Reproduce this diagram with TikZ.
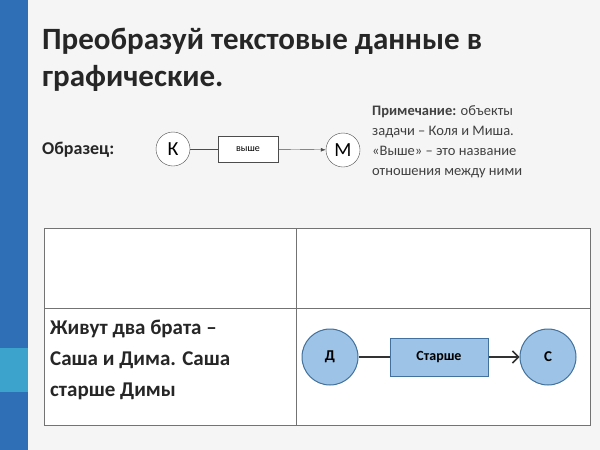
\documentclass[tikz,border=0pt]{standalone}
\usepackage{fontspec}
\setmainfont{Carlito}
\usetikzlibrary{arrows.meta}
\definecolor{strip}{HTML}{2F6FB5}
\definecolor{stripc}{HTML}{3BA3CC}
\definecolor{bfill}{HTML}{9DC3E6}
\definecolor{bdraw}{HTML}{41719C}
\tikzset{
  smallc/.style={circle,draw=black!70,fill=white,minimum size=34pt,inner sep=0pt,font=\fontsize{20}{20}\selectfont},
  bigc/.style={circle,draw=bdraw,fill=bfill,line width=1pt,minimum size=56pt,inner sep=0pt,font=\bfseries\fontsize{15}{15}\selectfont},
  txt/.style={anchor=west,inner sep=0pt,align=left}
}
\begin{document}
\begin{tikzpicture}[x=1pt,y=-1pt]
\useasboundingbox (0,0) rectangle (600,450);
\fill[white!96!black] (0,0) rectangle (600,450);
\fill[strip] (0,0) rectangle (28,450);
\fill[stripc] (0,348) rectangle (28,392);
\node[txt,font=\bfseries\fontsize{31}{37}\selectfont,text=black!85] (title) at (42,60) {Преобразуй текстовые данные в\\графические.};
\node[txt,font=\bfseries\fontsize{18}{18}\selectfont,text=black!85] (obr) at (42,150) {Образец:};
\node[smallc] (k) at (173,149) {К};
\node[draw=black!70,fill=white,minimum width=60pt,minimum height=26pt,font=\fontsize{10}{10}\selectfont] (vy) at (248,149) {выше};
\node[smallc] (m) at (343,150) {М};
\draw[black!70] (k) -- (vy);
\draw[black!70,-{Latex[length=5pt]}] (vy) -- (m);
\node[txt,font=\fontsize{14.5}{20}\selectfont,text=black!75] (note) at (372,142) {\textbf{Примечание:} объекты\\задачи – Коля и Миша.\\«Выше» – это название\\отношения между ними};
\draw[black!55,line width=1pt,fill=white] (44,228) rectangle (590,425);
\draw[black!55,line width=1pt] (44,308) -- (590,308);
\draw[black!55,line width=1pt] (296,228) -- (296,425);
\node[txt,font=\bfseries\fontsize{21}{31}\selectfont,text=black!85] (task) at (50,360) {Живут два брата –\\Саша и Дима. Саша\\старше Димы};
\node[bigc] (d) at (330,357) {Д};
\node[draw=bdraw,fill=bfill,line width=1pt,minimum width=98pt,minimum height=38pt,font=\bfseries\fontsize{14}{14}\selectfont] (st) at (439,357) {Старше};
\node[bigc] (s) at (548,357) {С};
\draw[black!80,line width=1.5pt] (d) -- (st);
\draw[black!80,line width=1.5pt,-{Straight Barb[length=6pt]}] (st) -- (s);
\end{tikzpicture}
\end{document}
